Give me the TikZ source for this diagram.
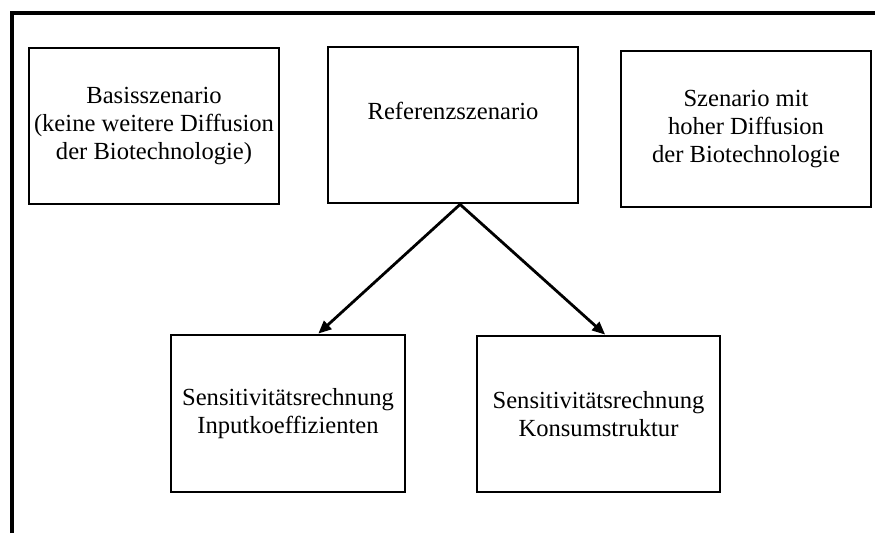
\documentclass[tikz,border=0pt]{standalone}
\usepackage{fontspec}
\setmainfont{Liberation Serif}
\usetikzlibrary{arrows.meta,calc}
\begin{document}
\begin{tikzpicture}[x=1pt,y=-1pt,
  box/.style={draw, line width=2.8pt, rectangle, inner sep=0pt, align=center,
    font=\fontsize{24.6}{28}\selectfont},
  link/.style={line width=2.8pt, -{Triangle[length=13pt,width=11pt]}}]
  \useasboundingbox (0,0) rectangle (875,533);
  % open frame: top and left edges only
  \draw[line width=3.4pt] (12,533) -- (12,13) -- (875,13);
  % scenario boxes
  \node[box, minimum width=250pt, minimum height=156pt] (basis) at (154,126)
    {Basisszenario\\(keine weitere Diffusion\\der Biotechnologie)};
  \node[box, minimum width=250pt, minimum height=156pt] (ref) at (453,125)
    {Referenzszenario\\\mbox{}};
  \node[box, minimum width=250pt, minimum height=156pt] (hoch) at (746,129)
    {Szenario mit\\hoher Diffusion\\der Biotechnologie};
  % sensitivity boxes
  \node[box, minimum width=234pt, minimum height=157pt] (input) at (288,413.5)
    {Sensitivitätsrechnung\\Inputkoeffizienten};
  \node[box, minimum width=243pt, minimum height=156pt] (konsum) at (598.5,414)
    {Sensitivitätsrechnung\\Konsumstruktur};
  % arrows from the reference scenario
  \coordinate (apex) at ($(ref.south west)!0.528!(ref.south east)$);
  \draw[link] (apex) -- ($(input.north west)!0.628!(input.north east)$);
  \draw[link] (apex) -- ($(konsum.north west)!0.527!(konsum.north east)$);
\end{tikzpicture}
\end{document}
